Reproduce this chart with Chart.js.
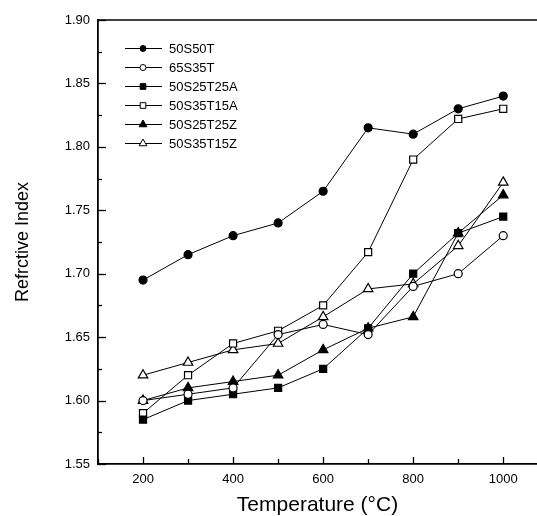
<!DOCTYPE html>
<html>
<head>
<meta charset="utf-8">
<script src="https://cdn.jsdelivr.net/npm/chart.js@4.4.1/dist/chart.umd.min.js"></script>
<style>
html,body{margin:0;padding:0;background:#fff;overflow:hidden;}
#wrap{width:537px;height:516px;position:relative;overflow:hidden;}
canvas{display:block;}
</style>
</head>
<body>
<div id="wrap"><canvas id="c" width="537" height="516"></canvas></div>
<script>
// ---- data ----
const temps = [200, 300, 400, 500, 600, 700, 800, 900, 1000];
const s50S50T    = [1.695, 1.715, 1.730, 1.740, 1.765, 1.815, 1.810, 1.830, 1.840];
const s65S35T    = [1.600, 1.605, 1.610, 1.652, 1.660, 1.652, 1.690, 1.700, 1.730];
const s50S25T25A = [1.585, 1.600, 1.605, 1.610, 1.625, 1.657, 1.700, 1.732, 1.745];
const s50S35T15A = [1.590, 1.620, 1.645, 1.655, 1.675, 1.717, 1.790, 1.822, 1.830];
const s50S25T25Z = [1.600, 1.610, 1.615, 1.620, 1.640, 1.657, 1.666, 1.732, 1.762];
const s50S35T15Z = [1.620, 1.630, 1.640, 1.645, 1.666, 1.688, 1.692, 1.722, 1.772];
const seriesNames = ['50S50T', '65S35T', '50S25T25A', '50S35T15A', '50S25T25Z', '50S35T15Z'];
const yTickValues = [1.55, 1.60, 1.65, 1.70, 1.75, 1.80, 1.85, 1.90];
const xTickValues = [200, 400, 600, 800, 1000];

const seriesValues = [s50S50T, s65S35T, s50S25T25A, s50S35T15A, s50S25T25Z, s50S35T15Z];
const styles = [
  {ps: 'circle', fill: true, r: 4},
  {ps: 'circle', fill: false, r: 4},
  {ps: 'rect', fill: true, r: 5},
  {ps: 'rect', fill: false, r: 5},
  {ps: 'triangle', fill: true, r: 5.5},
  {ps: 'triangle', fill: false, r: 5.5}
];

const datasets = seriesValues.map((vals, i) => ({
  label: seriesNames[i],
  data: temps.map((t, j) => ({x: t, y: vals[j]})),
  borderColor: '#000',
  borderWidth: 1,
  backgroundColor: styles[i].fill ? '#000' : '#fff',
  pointBackgroundColor: styles[i].fill ? '#000' : '#fff',
  pointBorderColor: '#000',
  pointBorderWidth: 1.2,
  pointStyle: styles[i].ps,
  pointRadius: styles[i].r,
  pointHoverRadius: styles[i].r,
  fill: false,
  tension: 0
}));

const FONT = 'Liberation Sans, Arial, sans-serif';

const decor = {
  id: 'decor',
  beforeDraw(chart) {
    const ctx = chart.ctx;
    ctx.save();
    ctx.fillStyle = '#fff';
    ctx.fillRect(0, 0, chart.width, chart.height);
    ctx.restore();
  },
  afterDraw(chart) {
    const ctx = chart.ctx;
    const xs = chart.scales.x, ys = chart.scales.y;
    const a = chart.chartArea;
    ctx.save();
    ctx.strokeStyle = '#000';
    // top frame
    ctx.lineWidth = 1.5;
    ctx.beginPath(); ctx.moveTo(a.left, a.top); ctx.lineTo(chart.width, a.top); ctx.stroke();
    // y ticks inward
    ctx.lineWidth = 1.3;
    for (let k = 0; k <= 14; k++) {
      const v = 1.55 + k * 0.025;
      const y = Math.round(ys.getPixelForValue(v)) + 0.5;
      const len = (k % 2 === 0) ? 8 : 4;
      ctx.beginPath(); ctx.moveTo(a.left, y); ctx.lineTo(a.left + len, y); ctx.stroke();
    }
    // x ticks inward
    for (let v = 100; v <= xs.max; v += 100) {
      const x = Math.round(xs.getPixelForValue(v)) + 0.5;
      const len = (v % 200 === 0) ? 7 : 5;
      ctx.beginPath(); ctx.moveTo(x, a.bottom); ctx.lineTo(x, a.bottom - len); ctx.stroke();
    }
    // legend
    ctx.font = '13px ' + FONT;
    ctx.textBaseline = 'middle';
    ctx.textAlign = 'left';
    chart.data.datasets.forEach((ds, i) => {
      const y = 48 + i * 19;
      ctx.lineWidth = 1;
      ctx.strokeStyle = '#000';
      ctx.beginPath(); ctx.moveTo(125, y + 0.5); ctx.lineTo(162, y + 0.5); ctx.stroke();
      const st = styles[i];
      ctx.fillStyle = st.fill ? '#000' : '#fff';
      ctx.strokeStyle = '#000';
      ctx.lineWidth = 1;
      Chart.helpers.drawPoint(ctx, {
        pointStyle: st.ps, radius: st.r - 1, rotation: 0, borderWidth: 1
      }, 143, y + 0.5);
      ctx.fillStyle = '#000';
      ctx.fillText(ds.label, 169, y + 1);
    });
    ctx.restore();
  }
};

new Chart(document.getElementById('c'), {
  type: 'line',
  data: {datasets},
  options: {
    responsive: false,
    animation: false,
    devicePixelRatio: 1,
    layout: {autoPadding: false, padding: {top: 20, right: 0, left: 0, bottom: 0}},
    plugins: {legend: {display: false}, tooltip: {enabled: false}},
    scales: {
      x: {
        type: 'linear', min: 100, max: 1075,
        afterFit(s) { s.height = 52; s.paddingLeft = 0; s.paddingRight = 0; },
        afterBuildTicks(s) { s.ticks = xTickValues.map(v => ({value: v})); },
        grid: {display: false, drawTicks: false},
        border: {display: true, color: '#000', width: 1.8},
        ticks: {font: {family: FONT, size: 13}, color: '#000', padding: 8, maxRotation: 0,
                callback: v => String(v)},
        title: {display: true, text: 'Temperature (\u00B0C)', color: '#000',
                font: {family: FONT, size: 21, lineHeight: 1}, padding: 0}
      },
      y: {
        type: 'linear', min: 1.55, max: 1.90,
        afterFit(s) { s.width = 98; s.paddingTop = 0; s.paddingBottom = 0; },
        afterBuildTicks(s) { s.ticks = yTickValues.map(v => ({value: v})); },
        grid: {display: false, drawTicks: false},
        border: {display: true, color: '#000', width: 1.8},
        ticks: {font: {family: FONT, size: 13}, color: '#000', padding: 8,
                callback: v => Number(v).toFixed(2)},
        title: {display: true, text: 'Refrctive Index', color: '#000',
                font: {family: FONT, size: 18, lineHeight: 1}, padding: {top: 14, bottom: 0}}
      }
    }
  },
  plugins: [decor]
});
</script>
</body>
</html>
